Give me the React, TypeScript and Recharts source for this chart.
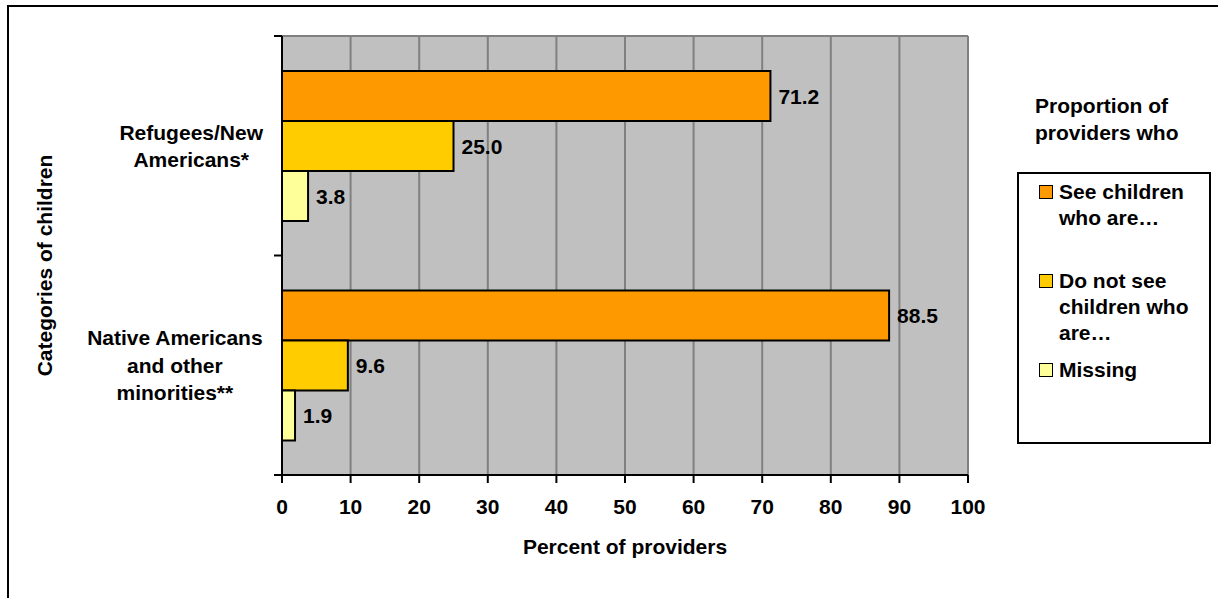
import React from 'react';
import {
  BarChart,
  Bar,
  XAxis,
  YAxis,
  CartesianGrid,
  LabelList,
  Legend,
} from 'recharts';

// Survey results: share of providers by category of children
const categories = ['Refugees/New Americans*', 'Native Americans and other minorities**'];
const seeValues = [71.2, 88.5];
const notSeeValues = [25.0, 9.6];
const missingValues = [3.8, 1.9];

const seriesKeys = ['see', 'notSee', 'missing'];
const seriesNames = ['See children who are…', 'Do not see children who are…', 'Missing'];
const seriesColors = ['#FF9900', '#FFCC00', '#FFFF99'];

const xTicks = [0, 10, 20, 30, 40, 50, 60, 70, 80, 90, 100];
const xTitle = 'Percent of providers';
const yTitle = 'Categories of children';
const legendTitle = 'Proportion of providers who';

const data = categories.map((category, i) => ({
  category,
  see: seeValues[i],
  notSee: notSeeValues[i],
  missing: missingValues[i],
}));

const FONT = "'Liberation Sans', Arial, Helvetica, sans-serif";
const FONT_SIZE = 21;

let measureCtx: CanvasRenderingContext2D | null = null;
function measure(text: string): number {
  if (!measureCtx) {
    measureCtx = document.createElement('canvas').getContext('2d');
  }
  if (!measureCtx) return text.length * 11;
  measureCtx.font = `bold ${FONT_SIZE}px ${FONT}`;
  return measureCtx.measureText(text).width;
}

function wrapText(text: string, maxWidth: number): string[] {
  const words = text.split(' ');
  const lines: string[] = [];
  let current = '';
  for (const w of words) {
    const candidate = current ? `${current} ${w}` : w;
    if (current && measure(candidate) > maxWidth) {
      lines.push(current);
      current = w;
    } else {
      current = candidate;
    }
  }
  if (current) lines.push(current);
  return lines;
}

const textStyle = {
  fontFamily: FONT,
  fontSize: FONT_SIZE,
  fontWeight: 'bold' as const,
  fill: '#000',
};

// Multi-line category label (lines centred in a block right-aligned next to the axis),
// plus the axis tick marks that sit on the band boundaries.
const CategoryTick = (props: any) => {
  const { x, y, payload, index, height } = props;
  const count = props.visibleTicksCount || categories.length;
  const band = (height || 439) / count;
  const lines = wrapText(String(payload.value), 195);
  const blockWidth = Math.max(...lines.map(measure));
  const cx = x - 19 - blockWidth / 2;
  const lineHeight = 27.5;
  const first = y - ((lines.length - 1) * lineHeight) / 2;
  const edges = [y - band / 2];
  if (index === count - 1) edges.push(y + band / 2);
  return (
    <g>
      {edges.map((ey, i) => (
        <line key={`e${i}`} x1={x - 8} x2={x} y1={ey} y2={ey} stroke="#000" strokeWidth={2} />
      ))}
      {lines.map((line, i) => (
        <text key={i} x={cx} y={first + i * lineHeight + 7.5} textAnchor="middle" {...textStyle}>
          {line}
        </text>
      ))}
    </g>
  );
};

const XTitle = (props: any) => {
  const vb = props.viewBox || { x: 282, y: 475, width: 686, height: 123 };
  return (
    <text x={vb.x + vb.width / 2} y={vb.y + 79} textAnchor="middle" {...textStyle}>
      {xTitle}
    </text>
  );
};

const YTitle = (props: any) => {
  const vb = props.viewBox || { x: 0, y: 36, width: 282, height: 439 };
  const tx = vb.x + 52;
  const ty = vb.y + vb.height / 2 + 10;
  return (
    <text x={tx} y={ty} transform={`rotate(-90 ${tx} ${ty})`} textAnchor="middle" {...textStyle}>
      {yTitle}
    </text>
  );
};

const LegendContent = (props: any) => {
  const payload: any[] = [...(props.payload || [])].sort(
    (a, b) => seriesKeys.indexOf(String(a.dataKey)) - seriesKeys.indexOf(String(b.dataKey))
  );
  return (
    <div
      style={{
        position: 'relative',
        width: 1218,
        height: 598,
        fontFamily: FONT,
        fontWeight: 'bold',
        fontSize: FONT_SIZE,
        color: '#000',
        pointerEvents: 'none',
      }}
    >
      <div style={{ position: 'absolute', left: 1035, top: 92, width: 155, lineHeight: '27px' }}>
        {legendTitle}
      </div>
      <div
        style={{
          position: 'absolute',
          left: 1017,
          top: 172,
          width: 190,
          height: 268,
          border: '2px solid #000',
          background: '#fff',
        }}
      >
        {payload.map((entry, i) => (
          <div key={i} style={{ position: 'absolute', left: 20, top: 5 + i * 89, width: 168 }}>
            <span
              style={{
                position: 'absolute',
                left: 0,
                top: 6,
                width: 14,
                height: 14,
                boxSizing: 'border-box',
                border: '1.5px solid #000',
                background: entry.color || seriesColors[i],
              }}
            />
            <div style={{ marginLeft: 20, width: 150, lineHeight: '26px' }}>{entry.value}</div>
          </div>
        ))}
      </div>
    </div>
  );
};

export default function App() {
  return (
    <div
      style={{
        position: 'absolute',
        left: 0,
        top: 0,
        width: 1218,
        height: 598,
        overflow: 'hidden',
        background: '#fff',
      }}
    >
      <div
        style={{
          position: 'absolute',
          left: 7,
          top: 5,
          width: 1300,
          height: 700,
          border: '2px solid #000',
        }}
      />
      <div style={{ position: 'absolute', left: 0, top: 0 }}>
        <BarChart
          width={1218}
          height={598}
          data={data}
          layout="vertical"
          margin={{ top: 36, right: 250, bottom: 0, left: 0 }}
          barCategoryGap="16%"
          barGap={0}
        >
          <CartesianGrid
            horizontal={true}
            vertical={true}
            horizontalCoordinatesGenerator={(p: any) => [p.offset.top]}
            fill="#C0C0C0"
            fillOpacity={1}
            stroke="#808080"
            strokeWidth={2}
          />
          <XAxis
            type="number"
            domain={[0, 100]}
            ticks={xTicks}
            interval={0}
            height={123}
            tickSize={8}
            tickMargin={16}
            tick={{ ...textStyle }}
            tickLine={{ stroke: '#000', strokeWidth: 2 }}
            axisLine={{ stroke: '#000', strokeWidth: 2 }}
            label={<XTitle />}
          />
          <YAxis
            type="category"
            dataKey="category"
            width={282}
            tickLine={false}
            tickSize={0}
            tickMargin={0}
            tick={<CategoryTick />}
            axisLine={{ stroke: '#000', strokeWidth: 2 }}
            label={<YTitle />}
          />
          {seriesKeys.map((key, i) => (
            <Bar
              key={key}
              dataKey={key}
              name={seriesNames[i]}
              fill={seriesColors[i]}
              stroke="#000"
              strokeWidth={2}
              isAnimationActive={false}
            >
              <LabelList
                dataKey={key}
                position="right"
                offset={8}
                formatter={(v: any) => Number(v).toFixed(1)}
                {...textStyle}
              />
            </Bar>
          ))}
          <Legend
            layout="vertical"
            align="center"
            verticalAlign="middle"
            content={<LegendContent />}
            wrapperStyle={{ left: 0, top: 0, width: 1218, height: 598, margin: 0, padding: 0 }}
          />
        </BarChart>
      </div>
    </div>
  );
}
